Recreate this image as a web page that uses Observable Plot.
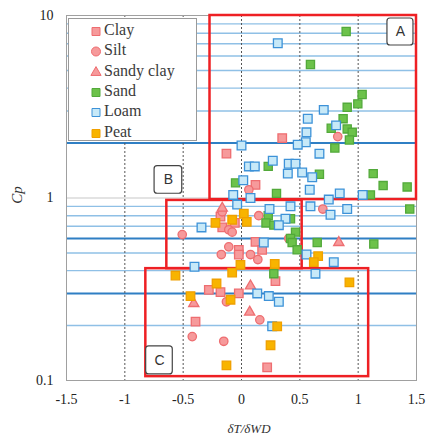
<!DOCTYPE html>
<html><head><meta charset="utf-8">
<script src="https://cdn.jsdelivr.net/npm/d3@7"></script>
<script src="https://cdn.jsdelivr.net/npm/@observablehq/plot@0.6"></script>
<style>
body{margin:0;background:#fff;}
#wrap{position:relative;width:427px;height:440px;}
#legend{position:absolute;left:68px;top:18px;width:129px;height:123px;background:#fff;border:1px solid #9a9a9a;box-sizing:border-box;font-family:"Liberation Serif","DejaVu Serif",serif;font-size:16px;color:#3a3a3a;}
.row{position:absolute;left:0;height:18px;line-height:18px;white-space:nowrap;}
.row svg{position:absolute;left:21px;top:4px;}
.row span{position:absolute;left:35px;top:0;}
</style>
</head><body>
<div id="wrap"><div id="chart"></div><div id="legend"></div></div>
<script>
// ---- data: [δT/δWD, Cp] ----
const clay = [[0.349,2.13],[-0.129,1.75],[0.12,1.18],[-0.18,0.79],[-0.165,0.69],[-0.057,0.73],[-0.023,0.52],[-0.023,0.49],[0.12,0.575],[0.177,0.52],[0.291,0.35],[-0.28,0.314],[-0.18,0.305],[-0.023,0.30],[-0.394,0.21],[0.22,0.118]];
const silt = [[0.825,2.17],[0.063,1.11],[0.148,0.80],[-0.165,0.84],[0.697,0.87],[-0.508,0.63],[-0.109,0.67],[-0.08,0.65],[-0.109,0.54],[0.14,0.46],[0.077,0.49],[-0.173,0.49],[0.405,0.60],[-0.129,0.27],[0.157,0.215],[-0.422,0.174],[-0.152,0.164]];
const sandyClay = [[0.834,0.57],[-0.165,0.88],[0.077,0.33],[0.07,0.237],[-0.409,0.264]];
const sand = [[0.897,8.17],[0.591,5.39],[1.034,3.69],[0.997,3.28],[0.906,3.14],[0.871,2.72],[0.769,2.41],[0.906,2.39],[0.949,2.29],[0.925,2.08],[0.80,1.88],[0.229,1.49],[0.668,1.35],[1.129,1.36],[-0.051,1.21],[1.214,1.17],[1.42,1.15],[0.30,1.06],[1.105,1.04],[1.442,0.87],[0.229,0.80],[0.21,0.73],[0.277,0.71],[0.42,0.77],[0.463,0.65],[0.42,0.60],[0.434,0.57],[0.477,0.52],[0.649,0.57],[1.134,0.56],[0.277,0.385]];
const loam = [[0.311,7.05],[0.705,3.04],[0.568,2.72],[0.811,2.50],[0.557,2.29],[0.551,2.02],[0.482,1.96],[0.0,1.94],[0.668,1.75],[0.268,1.60],[0.063,1.49],[0.114,1.49],[0.405,1.54],[0.463,1.54],[0.397,1.36],[0.52,1.38],[0.606,1.30],[0.015,1.25],[0.585,1.11],[-0.071,1.04],[0.077,1.00],[0.842,1.06],[1.039,1.04],[0.748,0.98],[0.24,0.87],[0.42,0.90],[0.591,0.90],[0.906,0.87],[-0.037,0.92],[0.763,0.81],[0.377,0.77],[0.32,0.71],[-0.343,0.69],[0.191,0.57],[0.557,0.49],[0.791,0.445],[0.634,0.385],[-0.403,0.42],[0.135,0.30],[0.234,0.29],[0.32,0.27],[0.263,0.198]];
const peat = [[0.02,0.82],[0.045,0.74],[-0.223,0.73],[-0.08,0.76],[-0.566,0.376],[-0.08,0.39],[-0.214,0.34],[-0.009,0.43],[0.285,0.435],[-0.437,0.29],[-0.094,0.277],[0.306,0.198],[0.249,0.156],[-0.129,0.121],[0.657,0.48],[0.62,0.445],[0.925,0.345]];

const xTicks = [-1.5,-1,-0.5,0,0.5,1,1.5];
const yTicks = [0.1,1,10];
const vGrid = [-1,-0.5,0,0.5,1];
const hGridMinor = [0.2,0.4,0.5,0.7,0.8,0.9,3,4,5,6,7,8,9];
const hGridMajor = [0.3,0.6,2];
const hGridDecade = [1];

// zones: [label, x1, x2, y1, y2]
const zones = [["A",-0.27,1.5,0.98,10],["B",-0.64,0.52,0.41,0.97],["C",-0.82,1.09,0.105,0.41]];
// zone tags: [label, x1, x2, y1, y2]
const tags = [["A",1.251,1.474,6.85,9.63],["B",-0.745,-0.508,1.055,1.494],["C",-0.817,-0.589,0.108,0.154]];

const series = [
  {name:"Clay", data:clay, symbol:"square", r:4.8, fill:"#f69a9b", stroke:"#ee6d70"},
  {name:"Silt", data:silt, symbol:"circle", r:4.2, fill:"#f69a9b", stroke:"#ee6d70"},
  {name:"Sandy clay", data:sandyClay, symbol:"triangle", r:3.8, fill:"#f69a9b", stroke:"#ee6d70"},
  {name:"Sand", data:sand, symbol:"square", r:4.6, fill:"#6cc24a", stroke:"#52a93a"},
  {name:"Loam", data:loam, symbol:"square", r:4.9, fill:"#c7e9f8", stroke:"#3d92d8"},
  {name:"Peat", data:peat, symbol:"square", r:4.8, fill:"#f8b400", stroke:"#f0a000"}
];

const serif = "Liberation Serif, DejaVu Serif, serif";
const chart = Plot.plot({
  width: 427, height: 440,
  marginLeft: 66, marginRight: 11, marginTop: 15, marginBottom: 60,
  style: {fontFamily: serif, fontSize: "14px", color: "#222", background: "#fff"},
  x: {domain: [-1.5, 1.5]},
  y: {type: "log", domain: [0.1, 10]},
  marks: [
    Plot.ruleY(hGridMinor, {stroke: "#8fc0e6", strokeWidth: 1.4}),
    Plot.ruleY(hGridMajor, {stroke: "#2f7fc4", strokeWidth: 2}),
    Plot.ruleY(hGridDecade, {stroke: "#c8c8c8", strokeWidth: 1.2}),
    Plot.ruleX(vGrid, {stroke: "#555", strokeWidth: 1, strokeDasharray: "2,2"}),
    Plot.frame({stroke: "#a0a0a0", strokeWidth: 1}),
    Plot.rect(zones, {x1: d => d[1], x2: d => d[2], y1: d => d[3], y2: d => d[4], fill: "none", stroke: "#ee2024", strokeWidth: 2.5}),
    ...series.map(s => Plot.dot(s.data, {x: d => d[0], y: d => d[1], symbol: () => s.symbol, r: s.r, fill: s.fill, stroke: s.stroke, strokeWidth: 1.3})),
    Plot.rect(tags, {x1: d => d[1], x2: d => d[2], y1: d => d[3], y2: d => d[4], fill: "#fff", stroke: "#444", strokeWidth: 1.2, rx: 3}),
    Plot.text(tags, {x: d => (d[1] + d[2]) / 2, y: d => Math.sqrt(d[3] * d[4]), text: d => d[0], fontFamily: "Liberation Sans, Arial, sans-serif", fontSize: 14, fill: "#333"}),
    Plot.axisX({ticks: xTicks, tickSize: 0, tickPadding: 14, tickFormat: d => String(d), label: null, fontSize: 14}),
    Plot.axisY({ticks: yTicks, tickSize: 0, tickPadding: 13, tickFormat: d => String(d), label: null, fontSize: 14})
  ]
});
document.getElementById("chart").appendChild(chart);

const svg = d3.select(chart);
svg.append("text").attr("x", 249).attr("y", 433).attr("text-anchor", "middle")
  .attr("font-family", serif).attr("font-style", "italic").attr("font-size", 13).attr("fill", "#333").text("δT/δWD");
svg.append("text").attr("transform", "translate(22,195) rotate(-90)").attr("text-anchor", "middle")
  .attr("font-family", serif).attr("font-style", "italic").attr("font-size", 15).attr("fill", "#333").text("Cp");

// legend
const legend = d3.select("#legend");
const rowY = [2, 22, 43, 63, 83, 104];
series.forEach((s, i) => {
  const row = legend.append("div").attr("class", "row").style("top", rowY[i] + "px");
  const sv = row.append("svg").attr("width", 12).attr("height", 12);
  const path = d3.symbol(s.symbol === "square" ? d3.symbolSquare : s.symbol === "circle" ? d3.symbolCircle : d3.symbolTriangle, s.symbol === "triangle" ? 45 : 64)();
  sv.append("path").attr("d", path).attr("transform", "translate(6,6.5)").attr("fill", s.fill).attr("stroke", s.stroke).attr("stroke-width", 1);
  row.append("span").text(s.name);
});
</script>
</body></html>
